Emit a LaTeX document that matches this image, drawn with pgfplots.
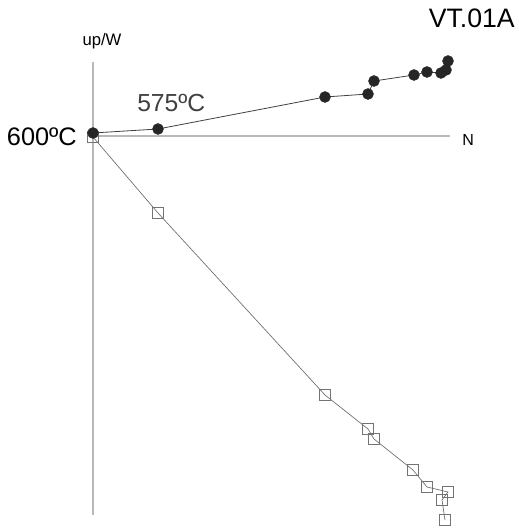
\documentclass[border=0pt]{standalone}
\usepackage{pgfplots}
\pgfplotsset{compat=1.18}
\usepackage{fontspec}
\setmainfont{Liberation Sans}

\begin{document}
\begin{tikzpicture}
\begin{axis}[
    x=0.75pt, y=0.75pt,
    xmin=-93, xmax=425, ymin=-393, ymax=135,
    hide axis, clip=false
]
% keep the full frame as bounding box
\path (axis cs:-93,-393) rectangle (axis cs:425,135);
% axes
\addplot[gray!55, line width=0.8pt] coordinates {(0,73) (0,-380)};
\addplot[gray!55, line width=0.8pt] coordinates {(0,-1) (357,-1)};
% horizontal projection (open squares)
\addplot[gray!85!black, line width=0.5pt, mark=square, mark size=4.1pt,
    mark options={fill=white, draw=gray!90!black, line width=0.6pt}] coordinates {
    (0,-2) (65,-78) (232,-260) (275,-294) (281,-304) (320,-335)
    (334,-352) (355,-357) (349,-365) (352,-385)};
% vertical projection (filled circles)
\addplot[black!75, line width=0.6pt, mark=*, mark size=4pt,
    mark options={fill=black!85, draw=black!85}] coordinates {
    (0,2) (65,6) (232,38) (275,41) (281,54) (321,60) (334,63)
    (348,62) (353,65) (355,74)};
\node[anchor=base east, inner sep=0pt, font=\fontsize{20}{20}\selectfont] at (axis cs:422,107) {VT.01A};
\node[anchor=base, inner sep=0pt, font=\fontsize{12.5}{12.5}\selectfont] at (axis cs:9,89) {up/W};
\node[anchor=base west, inner sep=0pt, font=\fontsize{18.5}{18.5}\selectfont, text=black!75] at (axis cs:44,23) {575ºC};
\node[anchor=base east, inner sep=0pt, font=\fontsize{19}{19}\selectfont] at (axis cs:-16,-11) {600ºC};
\node[anchor=base west, inner sep=0pt, font=\fontsize{12}{12}\selectfont] at (axis cs:369,-11) {N};
\end{axis}
\end{tikzpicture}
\end{document}
